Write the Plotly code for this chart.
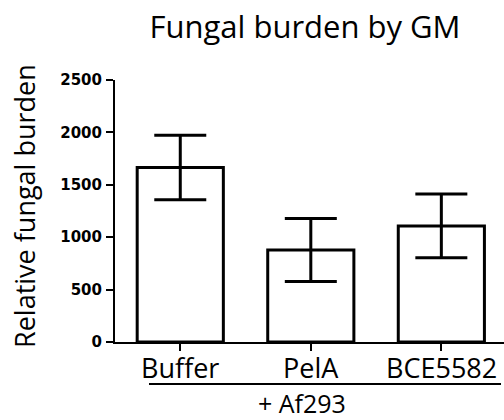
import plotly.graph_objects as go

categories = ["Buffer", "PelA", "BCE5582"]
values = [1665, 878, 1108]
errors = [307, 300, 304]
y_ticks = [0, 500, 1000, 1500, 2000, 2500]
title_text = "Fungal burden by GM"
y_title = "Relative fungal burden"
group_label = "+ Af293"

label_font = "Open Sans"

fig = go.Figure()
fig.add_trace(go.Bar(
    x=categories, y=values, width=0.66,
    marker=dict(color="white", line=dict(color="black", width=3)),
    error_y=dict(type="data", array=errors, visible=True, color="black", thickness=3, width=26),
    showlegend=False,
))

annotations = [
    dict(text=y_title, xref="paper", yref="paper", x=(24-115)/389, y=(342-206)/262,
         textangle=-90, showarrow=False, xanchor="center", yanchor="middle",
         font=dict(family=label_font, size=27, color="black")),
    dict(text=group_label, xref="paper", yref="paper", x=(302-115)/389, y=(342-403)/262,
         showarrow=False, xanchor="center", yanchor="middle",
         font=dict(family=label_font, size=25, color="black")),
]
for c in categories:
    annotations.append(dict(text=c, xref="x", yref="paper", x=c, y=(342-367)/262,
                            showarrow=False, xanchor="center", yanchor="middle",
                            font=dict(family=label_font, size=27, color="black")))

fig.update_layout(
    width=504, height=420,
    margin=dict(l=115, r=0, t=80, b=78),
    paper_bgcolor="white", plot_bgcolor="white",
    title=dict(text=title_text, x=305/504, xanchor="center", y=1-27/420, yanchor="middle",
               font=dict(family=label_font, size=31, color="black")),
    xaxis=dict(range=[-0.5, 2.48], showline=True, linecolor="black", linewidth=2,
               ticks="outside", ticklen=7, tickwidth=2, tickcolor="black",
               showticklabels=False, showgrid=False, zeroline=False, fixedrange=True),
    yaxis=dict(range=[0, 2500], tickvals=y_ticks, showline=True, linecolor="black", linewidth=2,
               ticks="outside", ticklen=7, tickwidth=2, tickcolor="black",
               tickfont=dict(family="DejaVu Sans", size=15, color="black", weight="bold"),
               ticklabelstandoff=1,
               showgrid=False, zeroline=False, fixedrange=True),
    shapes=[dict(type="line", xref="paper", yref="paper",
                 x0=(149-115)/389, x1=(501-115)/389, y0=-42/262, y1=-42/262,
                 line=dict(color="black", width=2))],
    annotations=annotations,
)

fig.write_html("out.html")
